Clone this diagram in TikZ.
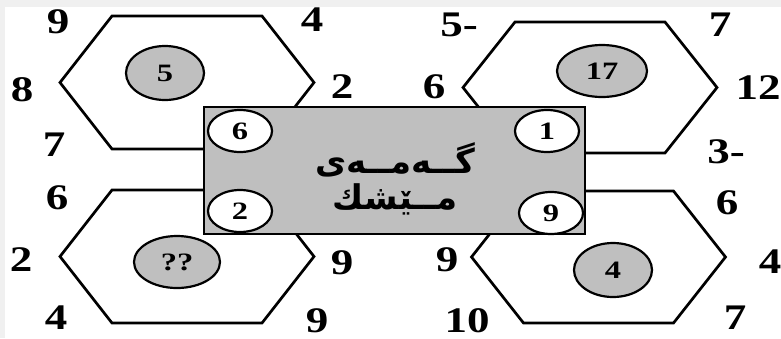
\documentclass[tikz,border=0pt]{standalone}
\usepackage{fontspec}
\usepackage{graphicx}
\setmainfont{Liberation Serif}
\newfontfamily\arabicfont[Script=Arabic]{DejaVu Sans}
\TeXXeTstate=1
\usetikzlibrary{shapes.geometric}
\newcommand\bignum[1]{\scalebox{1.25}[1]{\bfseries\fontsize{36}{36}\selectfont #1}}
\newcommand\smallnum[1]{\scalebox{1.3}[1]{\bfseries\fontsize{25}{25}\selectfont #1}}
\tikzset{
  hexline/.style={draw=black, line width=2.7pt, fill=white, line join=miter},
  grayoval/.style={ellipse, draw=black, line width=2.2pt, fill=black!25, inner sep=0pt},
  whiteoval/.style={ellipse, draw=black, line width=2.2pt, fill=white, inner sep=0pt, minimum width=64pt, minimum height=42pt},
  outer/.style={inner sep=0pt, anchor=center},
  titlebox/.style={draw=black, line width=2.7pt, fill=black!25}
}
\newcommand\hexagon[3]{% center x, center y, half-height
  \path[hexline] (#1-127,#2) -- (#1-75,#2-#3) -- (#1+75,#2-#3) -- (#1+127,#2) -- (#1+75,#2+#3) -- (#1-75,#2+#3) -- cycle;}
\begin{document}
\begin{tikzpicture}[x=1pt,y=-1pt]
\useasboundingbox (0,0) rectangle (781,338);
\fill[black!6] (0,0) rectangle (781,338);
\fill[white] (5,7) rectangle (781,338);

% hexagons
\hexagon{187}{82.5}{66.5}
\hexagon{590}{87.5}{65.5}
\hexagon{187}{256.5}{66.5}
\hexagon{598.5}{257}{66}

% gray ovals
\node[grayoval, minimum width=78pt, minimum height=54pt] (g5) at (165,73) {\smallnum{5}};
\node[grayoval, minimum width=90pt, minimum height=52pt] (g17) at (602,71) {\smallnum{17}};
\node[grayoval, minimum width=86pt, minimum height=52pt] (gq) at (177,262) {\smallnum{??}};
\node[grayoval, minimum width=78pt, minimum height=54pt] (g4) at (613,270) {\smallnum{4}};

% central box
\node[titlebox, minimum width=381pt, minimum height=127pt, inner sep=0pt] (box) at (394.5,170.5) {};
\node[inner sep=0pt] (title1) at (395,160) {\arabicfont\bfseries\fontsize{34}{34}\selectfont\beginR گــەمــەی\endR};
\node[inner sep=0pt] (title2) at (395,199) {\arabicfont\bfseries\fontsize{34}{34}\selectfont\beginR مــێشك\endR};

% white ovals in box
\node[whiteoval] (w6) at (240,131) {\smallnum{6}};
\node[whiteoval] (w1) at (547,131) {\smallnum{1}};
\node[whiteoval] (w2) at (240,211) {\smallnum{2}};
\node[whiteoval] (w9) at (551,213) {\smallnum{9}};

% outer numbers: top-left hexagon
\node[outer] (a1) at (58,22) {\bignum{9}};
\node[outer] (a2) at (312,20) {\bignum{4}};
\node[outer] (a3) at (22,90) {\bignum{8}};
\node[outer] (a4) at (342,87) {\bignum{2}};
\node[outer] (a5) at (54,145) {\bignum{7}};
% top-right hexagon
\node[outer] (b1) at (459,25) {\bignum{5-}};
\node[outer] (b2) at (720,25) {\bignum{7}};
\node[outer] (b3) at (434,87) {\bignum{6}};
\node[outer] (b4) at (758,88) {\bignum{12}};
\node[outer] (b5) at (726,152) {\bignum{3-}};
% bottom-left hexagon
\node[outer] (c1) at (57,198) {\bignum{6}};
\node[outer] (c2) at (21,260) {\bignum{2}};
\node[outer] (c3) at (342,263) {\bignum{9}};
\node[outer] (c4) at (56,318) {\bignum{4}};
\node[outer] (c5) at (317,321) {\bignum{9}};
% bottom-right hexagon
\node[outer] (d1) at (727,203) {\bignum{6}};
\node[outer] (d2) at (447,260) {\bignum{9}};
\node[outer] (d3) at (770,262) {\bignum{4}};
\node[outer] (d4) at (467,321) {\bignum{10}};
\node[outer] (d5) at (735,318) {\bignum{7}};
\end{tikzpicture}
\end{document}
